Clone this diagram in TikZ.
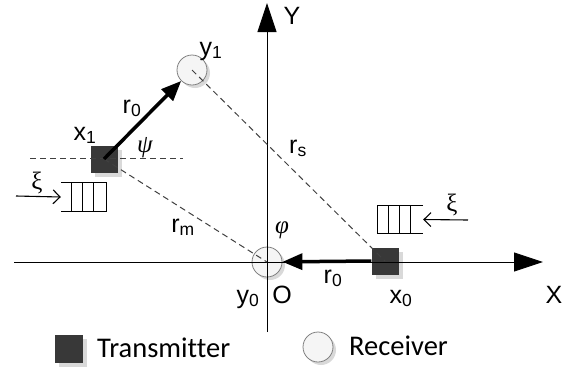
\documentclass[tikz,border=0pt]{standalone}
\usepackage{fontspec}
\setmainfont{Liberation Sans}
\newfontfamily\legendfont[Ligatures=NoCommon]{Carlito}
\newfontfamily\greekfont{Liberation Serif}
\usetikzlibrary{arrows.meta,shadows}

\begin{document}
\begin{tikzpicture}[x=1pt, y=-1pt,
		tx/.style={rectangle, minimum size=27pt, inner sep=0pt, fill=black!78,
			drop shadow={shadow xshift=4pt, shadow yshift=-4pt, fill=black!15, opacity=1}},
		rx/.style={circle, minimum size=30pt, inner sep=0pt, draw=black!50, line width=0.8pt, fill=black!4,
			drop shadow={shadow xshift=3pt, shadow yshift=-3pt, fill=black!15, opacity=1}},
		queue/.style={rectangle, minimum width=45pt, minimum height=28pt, inner sep=0pt},
		axis/.style={line width=0.9pt, -{Triangle[length=29pt, width=19pt]}},
		guide/.style={dashed, dash pattern=on 6pt off 4pt, draw=black!75, line width=1pt},
		link/.style={line width=3.5pt, -{Triangle[length=20pt, width=16pt]}},
		feed/.style={line width=1.1pt, -{Straight Barb[length=7pt, width=14pt]}},
		lab/.style={font=\fontsize{25}{28}\selectfont, inner sep=0pt, anchor=base},
		gr/.style={font=\greekfont\itshape\fontsize{25}{28}\selectfont, inner sep=0pt},
		legend/.style={font=\legendfont\fontsize{28.5}{32}\selectfont, inner sep=0pt, anchor=base west}]
		\useasboundingbox (0,0) rectangle (574,373);
		% transmitters and receivers
		\node[tx] (tx1) at (104,159) {};
		\node[tx] (tx0) at (385,261) {};
		\node[rx] (rx1) at (192,70) {};
		\node[rx] (rx0) at (267,262) {};
		% axes
		\coordinate (xl) at (14,262);
		\coordinate (xr) at (543,262);
		\coordinate (yb) at (267,332);
		\coordinate (yt) at (267,3);
		\draw[axis] (xl) -- (xr);
		\draw[axis] (yb) -- (yt);
		\node[lab] (xlab) at (554,303) {X};
		\node[lab] (ylab) at (292,24) {Y};
		\node[lab] (olab) at (282,303) {O};
		% dashed guides
		\coordinate (hl) at (30,158);
		\coordinate (hr) at (183,158);
		\draw[guide] (hl) -- (hr);
		\draw[guide] (tx1.center) -- (rx0.center);
		\draw[guide] (rx1.center) -- (tx0.center);
		% links
		\draw[link] (tx1.center) -- (rx1);
		\draw[link] (tx0.west) -- (rx0);
		% queues
		\node[queue] (q1) at (83.5,197) {};
		\draw[line width=1.1pt] (q1.north west) -- (q1.north east) -- (q1.south east) -- (q1.south west);
		\foreach \d in {11,22,33}
			\draw[line width=1.1pt] ([xshift=\d pt]q1.north west) -- ([xshift=\d pt]q1.south west);
		\node[queue] (q0) at (400.5,219.5) {};
		\draw[line width=1.1pt] (q0.north east) -- (q0.north west) -- (q0.south west) -- (q0.south east);
		\foreach \d in {11,22,33}
			\draw[line width=1.1pt] ([xshift=\d pt]q0.north west) -- ([xshift=\d pt]q0.south west);
		\coordinate (s1) at (16,196);
		\coordinate (s0) at (468,220);
		\draw[feed] (s1) -- (q1.west);
		\draw[feed] (s0) -- (q0.east);
		% labels
		\node[lab] (x1lab) at (85,140) {x\textsubscript{1}};
		\node[lab] (y1lab) at (211,55) {y\textsubscript{1}};
		\node[lab] (x0lab) at (401,303) {x\textsubscript{0}};
		\node[lab] (y0lab) at (248,303) {y\textsubscript{0}};
		\node[lab] (r0up) at (132,113) {r\textsubscript{0}};
		\node[lab] (r0lo) at (333,283) {r\textsubscript{0}};
		\node[lab] (rmlab) at (183,232) {r\textsubscript{m}};
		\node[lab] (rslab) at (298,153) {r\textsubscript{s}};
		\node[gr] (psi) at (145,148) {ψ};
		\node[gr] (phi) at (282,230) {φ};
		\node[gr, font=\greekfont\upshape\fontsize{25}{28}\selectfont] (xi1) at (37,183) {ξ};
		\node[gr, font=\greekfont\upshape\fontsize{25}{28}\selectfont] (xi0) at (452,205) {ξ};
		% legend
		\node[tx, minimum size=28pt] (ltx) at (69,349) {};
		\node[rx] (lrx) at (318,347) {};
		\node[legend] (ltxt) at (97,357) {Transmitter};
		\node[legend] (lrxt) at (349,355) {Receiver};
	\end{tikzpicture}
\end{document}
